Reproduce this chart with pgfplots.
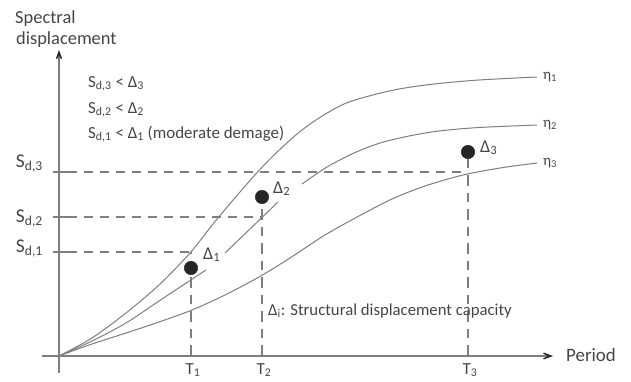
\documentclass[border=0pt]{standalone}
\usepackage{fontspec}
\setmainfont{Carlito}
\usepackage{pgfplots}
\pgfplotsset{compat=1.18}
\usetikzlibrary{arrows.meta}
\definecolor{ln}{HTML}{7E7E7E}
\definecolor{tx}{HTML}{454545}
\begin{document}
\begin{tikzpicture}
\begin{axis}[
  x=1bp, y=1bp,
  xmin=-17, xmax=494, ymin=-17, ymax=306,
  axis lines=middle,
  axis line style={ln, line width=1.2bp},
  x axis line style={-{Stealth[length=20bp,width=15bp,inset=15bp,color=black!85]}},
  y axis line style={-{Stealth[length=18bp,width=13bp,inset=13bp,color=black!85]}},
  xtick=\empty, ytick=\empty,
  clip=false,
]
% curves
\addplot[ln, line width=1bp, smooth] coordinates {(0,0)(33,18)(67,43)(100,71)(131,103)(154,132)(175,157)(195,180)(214,200)(238,222)(260,238)(285,252)(310,260)(340,267)(375,272)(420,276)(478,279)};
\addplot[ln, line width=1bp, smooth] coordinates {(0,0)(33,15)(67,33)(100,55)(147,86)};
\addplot[ln, line width=1bp, smooth] coordinates {(166,103)(191,127)(219,154)};
\addplot[ln, line width=1bp, smooth] coordinates {(243,172)(268,189)(295,203)(321,213)(350,220)(380,225)(420,228.5)(478,231)};
\addplot[ln, line width=1bp, smooth] coordinates {(0,0)(33,12)(67,23)(100,34)(133,46)(166,61)(200,79)(231,98)(266,121)(300,140)(333,157)(366,170)(404,181)(441,188)(478,193)};
% small ticks on the vertical axis
\addplot[ln, line width=1.1bp] coordinates {(-6,104)(9,104)};
\addplot[ln, line width=1.1bp] coordinates {(-6,139)(9,139)};
\addplot[ln, line width=1.1bp] coordinates {(-6,184)(9,184)};
% dashed guides
\addplot[ln, line width=1.1bp, dash pattern=on 9bp off 7bp] coordinates {(9,104)(132,104)};
\addplot[ln, line width=1.1bp, dash pattern=on 9bp off 7bp] coordinates {(9,139)(203,139)};
\addplot[ln, line width=1.1bp, dash pattern=on 9bp off 7bp] coordinates {(9,184)(409,184)};
\addplot[ln, line width=1.1bp, dash pattern=on 11bp off 7bp on 9bp off 7bp] coordinates {(132,0)(132,104)};
\addplot[ln, line width=1.1bp, dash pattern=on 11bp off 7bp on 9bp off 7bp] coordinates {(203,0)(203,154)};
\addplot[ln, line width=1.1bp, dash pattern=on 11bp off 7bp on 9bp off 7bp] coordinates {(409,0)(409,197)};
% capacity points
\addplot[only marks, mark=*, mark size=6.8pt, mark options={fill=black!85, draw=black!85}] coordinates {(132,88)(203,159)(409,204)};
% bounding box corners
\coordinate (bl) at (axis cs:-59,-25);
\coordinate (tr) at (axis cs:572,356);
\begin{scope}[every node/.style={text=tx, inner sep=0pt}]
\node[anchor=base west, font=\fontsize{18.5}{20}\selectfont] at (axis cs:-44,332) {Spectral};
\node[anchor=base west, font=\fontsize{18.5}{20}\selectfont] at (axis cs:-43,311) {displacement};
\node[anchor=base west, font=\fontsize{19}{20}\selectfont] at (axis cs:507,-5) {Period};
\node[anchor=base west, font=\fontsize{17}{18}\selectfont] at (axis cs:29,269) {S\textsubscript{d,3} < Δ\textsubscript{3}};
\node[anchor=base west, font=\fontsize{17}{18}\selectfont] at (axis cs:29,243) {S\textsubscript{d,2} < Δ\textsubscript{2}};
\node[anchor=base west, font=\fontsize{17}{18}\selectfont] at (axis cs:29,218) {S\textsubscript{d,1} < Δ\textsubscript{1} (moderate demage)};
\node[anchor=base west, font=\fontsize{16.8}{18}\selectfont] at (axis cs:209,41) {Δ\textsubscript{i}: Structural displacement capacity};
\node[anchor=base east, font=\fontsize{19.5}{20}\selectfont] at (axis cs:-16,189) {S\textsubscript{d,3}};
\node[anchor=base east, font=\fontsize{19.5}{20}\selectfont] at (axis cs:-16,134) {S\textsubscript{d,2}};
\node[anchor=base east, font=\fontsize{19.5}{20}\selectfont] at (axis cs:-16,104) {S\textsubscript{d,1}};
\node[anchor=base, font=\fontsize{17}{18}\selectfont] at (axis cs:134,-18) {T\textsubscript{1}};
\node[anchor=base, font=\fontsize{17}{18}\selectfont] at (axis cs:205,-18) {T\textsubscript{2}};
\node[anchor=base, font=\fontsize{17}{18}\selectfont] at (axis cs:411,-18) {T\textsubscript{3}};
\node[anchor=base west, font=\fontsize{18}{18}\selectfont] at (axis cs:144,97) {Δ\textsubscript{1}};
\node[anchor=base west, font=\fontsize{18}{18}\selectfont] at (axis cs:214,163) {Δ\textsubscript{2}};
\node[anchor=base west, font=\fontsize{18}{18}\selectfont] at (axis cs:421,204) {Δ\textsubscript{3}};
\node[anchor=west, font=\fontsize{15}{16}\selectfont] at (axis cs:484,279) {η\textsubscript{1}};
\node[anchor=west, font=\fontsize{15}{16}\selectfont] at (axis cs:484,231) {η\textsubscript{2}};
\node[anchor=west, font=\fontsize{15}{16}\selectfont] at (axis cs:484,193) {η\textsubscript{3}};
\end{scope}
\end{axis}
\pgfresetboundingbox
\path[use as bounding box] (bl) rectangle (tr);
\end{tikzpicture}
\end{document}
